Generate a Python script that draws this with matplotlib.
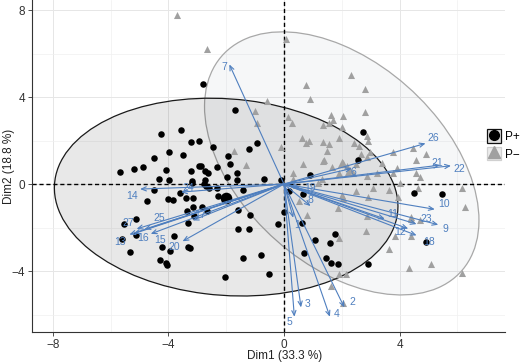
import numpy as np
import matplotlib
matplotlib.use("Agg")
import matplotlib.pyplot as plt
from matplotlib.patches import Ellipse, Patch
from matplotlib.lines import Line2D

plt.rcParams['font.family'] = ['Liberation Sans', 'DejaVu Sans']

# individuos P+ (Dim1, Dim2)
pplus_x = [-2.81, -1.68, -4.27, -3.55, -3.23, -2.95, -2.47, -1.22, -0.92, -3.99,
           -3.48, -4.50, -1.94, -1.87, -5.67, -5.19, -4.87, -4.08, -3.21, -2.95,
           -2.86, -2.72, -2.63, -2.31, -1.62, -1.96, -4.34, -3.97, -3.18, -2.72,
           -1.64, -3.18, -2.70, -4.49, -3.60, -3.40, -3.16, -4.03, -3.85, -4.74,
           -3.16, -3.36, -2.85, -5.12, -5.53, -3.33, -2.65, -3.10, -2.30, -1.60,
           -1.18, -1.60, -1.20, -1.42, -2.03, -5.11, -5.62, -5.32, -3.81, -4.21,
           -3.94, -3.31, -3.25, -4.29, -4.09, -4.04, -0.21, 0.61, -0.78, -0.53,
           1.07, 1.75, 1.59, 0.69, 1.46, 1.64, 1.88, 2.92, 0.18, 0.67,
           0.01, 4.51, 5.46, 4.91, -0.68, -0.11, 0.90, 2.74, 2.57, -2.75,
           -2.58, -2.33, -1.41]
pplus_y = [4.58, 3.42, 2.31, 2.50, 1.92, 1.98, 1.70, 1.61, 1.87, 1.49,
           1.35, 1.21, 1.27, 0.92, 0.57, 0.68, 0.77, 0.64, 0.60, 0.84,
           0.81, 0.60, 0.52, 0.77, 0.49, 0.31, 0.23, 0.17, 0.14, 0.18,
           0.18, 0.05, -0.08, -0.29, -0.40, -0.63, -0.66, -0.70, -0.72, -0.78,
           -1.04, -1.24, -1.07, -1.61, -1.82, -1.78, -1.23, -1.46, -0.54, -1.17,
           -1.40, -2.05, -2.08, -3.40, -4.28, -2.36, -2.54, -3.11, -2.38, -2.91,
           -3.08, -2.90, -2.94, -3.48, -3.62, -3.71, -1.84, -1.78, -3.25, -4.15,
           -2.59, -2.28, -2.70, -3.19, -3.39, -3.65, -3.66, -3.66, -0.34, -0.46,
           -1.29, -0.43, -0.46, -2.67, 0.24, 0.18, 0.40, 2.41, 1.10, 0.00,
           -0.20, -0.20, -0.28]

# individuos P-
pminus_x = [-3.71, -2.65, -1.01, -0.93, -1.72, -1.30, 0.07, 2.33, 2.79, 0.77,
            0.90, 2.79, -0.60, 0.15, 0.29, 1.63, 1.70, 1.57, 2.05, 2.00,
            1.34, 0.62, 0.75, 0.88, 1.36, 1.57, 1.91, 2.88, 2.92, -0.09,
            1.48, 2.42, 2.61, 2.98, 2.65, 1.38, 1.34, 0.65, 1.65, 2.05,
            2.19, 2.28, 2.23, 2.51, 2.86, 3.76, 4.47, 4.91, 4.57, 3.90,
            4.57, 4.71, 3.21, 0.30, 1.89, 2.86, 1.30, 3.40, 2.40, 3.78,
            4.01, 6.15, 6.26, 2.49, 3.09, 2.92, 3.64, 3.96, 4.41, 4.41,
            4.71, 4.65, 2.00, 2.03, 0.52, 1.88, 0.80, 2.86, 2.84, 3.63,
            3.86, 4.38, 4.33, 5.10, 6.16, 1.89, 1.89, 2.15, 1.63, 2.03,
            0.30, 1.19]
pminus_y = [7.78, 6.19, 3.36, 2.79, 1.53, 0.89, 6.67, 5.03, 4.37, 4.54,
            3.91, 3.31, 3.82, 3.07, 2.79, 3.17, 2.94, 2.82, 3.13, 2.61,
            2.70, 2.13, 1.90, 1.96, 1.94, 1.83, 2.13, 2.21, 1.98, 1.72,
            1.52, 1.87, 1.76, 1.49, 1.38, 1.10, 1.04, 0.91, 0.80, 0.98,
            0.83, 0.64, 0.55, 0.92, 1.26, 1.49, 1.64, 1.37, 1.10, 0.75,
            0.52, 0.31, 0.52, 0.24, 0.49, 0.37, 0.22, 0.98, 0.49, 0.49,
            0.03, -0.17, -1.07, -0.31, -0.20, -0.58, -0.28, -0.58, -1.50, -1.61,
            -1.66, -0.18, -0.52, -0.63, -0.77, -1.09, -1.40, -1.46, -2.15, -2.97,
            -2.39, -2.39, -3.86, -3.69, -4.08, -2.48, -4.12, -4.12, -4.69, -5.45,
            0.49, 0.03]

# centroides de grupo
mean_plus = (-1.99, -0.64)
mean_minus = (2.00, 0.95)

# variables (flechas)
var_names = ['1', '2', '3', '4', '5', '6', '7', '8', '9', '10', '11', '12', '13', '14',
             '15', '16', '17', '18', '19', '20', '21', '22', '23', '24', '25', '26', '27']
var_x = [0.32, 2.09, 0.59, 1.59, 0.36, 2.35, -1.89, 0.92, 5.34, 5.22, 3.49, 4.30, -5.35, -4.98,
         -4.61, -5.20, -3.16, 4.59, 0.55, -3.51, 5.40, 5.78, 4.59, -3.56, -4.83, 4.90, -5.10]
var_y = [-1.55, -5.67, -5.67, -6.10, -6.10, 0.72, 5.50, -1.01, -1.87, -1.16, -1.60, -2.05, -2.32, -0.23,
         -2.29, -2.28, -1.67, -2.36, -0.15, -2.63, 0.87, 0.84, -1.84, -0.37, -2.08, 1.87, -2.06]

# desplazamiento de las etiquetas (pixeles)
lab_off = {'1': (4, -7), '2': (8, 5), '3': (7, 3), '4': (7, 3), '5': (-5, -5), '6': (2, -4),
           '7': (-5, -3), '8': (0, 6), '9': (7, -4), '10': (9, 5), '11': (8, 5), '12': (-8, -3),
           '13': (-9, -7), '14': (-8, -7), '15': (9, -6), '16': (9, -4), '17': (7, 5),
           '18': (12, -7), '19': (10, -1), '20': (-8, -6), '21': (-3, 2), '22': (8, -3),
           '23': (10, 5), '24': (7, 4), '25': (15, 11), '26': (8, 5), '27': (-8, 6)}

azul = '#4f7fbf'

fig = plt.figure(figsize=(5.2, 3.64), dpi=100)
ax = fig.add_axes([32 / 520, 1 - 332 / 364, 473 / 520, 332 / 364])

# elipses de confianza
ax.add_patch(Ellipse((2.0, 0.95), 13.24, 7.82, angle=-59.7, facecolor='#8090a8', alpha=0.07,
                     edgecolor='none', zorder=1))
ax.add_patch(Ellipse((2.0, 0.95), 13.24, 7.82, angle=-59.7, facecolor='none',
                     edgecolor='#a8a8a8', lw=0.9, zorder=1))
ax.add_patch(Ellipse((-2.0, -0.6), 11.96, 9.0, angle=-9.4, facecolor='black', alpha=0.09,
                     edgecolor='none', zorder=1))
ax.add_patch(Ellipse((-2.0, -0.6), 11.96, 9.0, angle=-9.4, facecolor='none',
                     edgecolor='#1a1a1a', lw=0.9, zorder=1))

ax.axhline(0, color='black', ls=(0, (3, 2)), lw=1.0, zorder=2)
ax.axvline(0, color='black', ls=(0, (3, 2)), lw=1.0, zorder=2)

ax.scatter(pminus_x, pminus_y, marker='^', s=26, color='#a0a0a0', linewidths=0, zorder=3)
ax.scatter(pplus_x, pplus_y, marker='o', s=22, color='black', linewidths=0, zorder=3)
ax.scatter([mean_minus[0]], [mean_minus[1]], marker='^', s=45, color='#a0a0a0', linewidths=0, zorder=3)
ax.scatter([mean_plus[0]], [mean_plus[1]], marker='o', s=70, color='black', linewidths=0, zorder=3)

for n, x, y in zip(var_names, var_x, var_y):
    ax.annotate('', xy=(x, y), xytext=(0, 0),
                arrowprops=dict(arrowstyle='->,head_length=0.35,head_width=0.15',
                                color=azul, lw=0.8, shrinkA=0, shrinkB=0), zorder=4)
    ax.annotate(n, xy=(x, y), xytext=lab_off[n], textcoords='offset pixels',
                ha='center', va='center', fontsize=7.5, color=azul, zorder=5)

ax.set_xlim(-8.72, 7.65)
ax.set_ylim(-6.8, 8.46)
ax.set_xticks([-8, -4, 0, 4])
ax.set_yticks([-4, 0, 4, 8])
ax.set_xticks([-6, -2, 2, 6], minor=True)
ax.set_yticks([-6, -2, 2, 6], minor=True)
ax.grid(True, which='major', color='#e6e6e6', lw=0.7, zorder=0)
ax.grid(True, which='minor', color='#f0f0f0', lw=0.5, zorder=0)
ax.set_axisbelow(True)
ax.tick_params(which='minor', length=0)
ax.tick_params(which='major', length=3, width=0.6, labelsize=8.5, colors='#333333', pad=2)
for s in ['top', 'right']:
    ax.spines[s].set_visible(False)
for s in ['left', 'bottom']:
    ax.spines[s].set_color('#333333')
    ax.spines[s].set_linewidth(0.8)

ax.set_xlabel('Dim1 (33.3 %)', fontsize=8.5, color='#222222')
ax.set_ylabel('Dim2 (18.8 %)', fontsize=8.5, color='#222222')
ax.xaxis.set_label_coords(0.535, -0.054)
ax.yaxis.set_label_coords(-0.036, 0.5)

h_plus = (Patch(facecolor='#dedede', edgecolor='#111111', lw=0.9),
          Line2D([], [], marker='o', ls='', color='black', markersize=7))
h_minus = (Patch(facecolor='#ececec', edgecolor='#d0d0d0', lw=0.9),
           Line2D([], [], marker='^', ls='', color='#a0a0a0', markersize=8))
fig.legend([h_plus, h_minus], ['P+', 'P\u2212'], loc='center left',
           bbox_to_anchor=(487 / 520, 1 - 145 / 364), frameon=False, fontsize=8.5,
           handlelength=1.2, handleheight=1.4, handletextpad=0.3, labelspacing=0.3,
           borderpad=0, borderaxespad=0)

fig.savefig('out.png', dpi=100)
